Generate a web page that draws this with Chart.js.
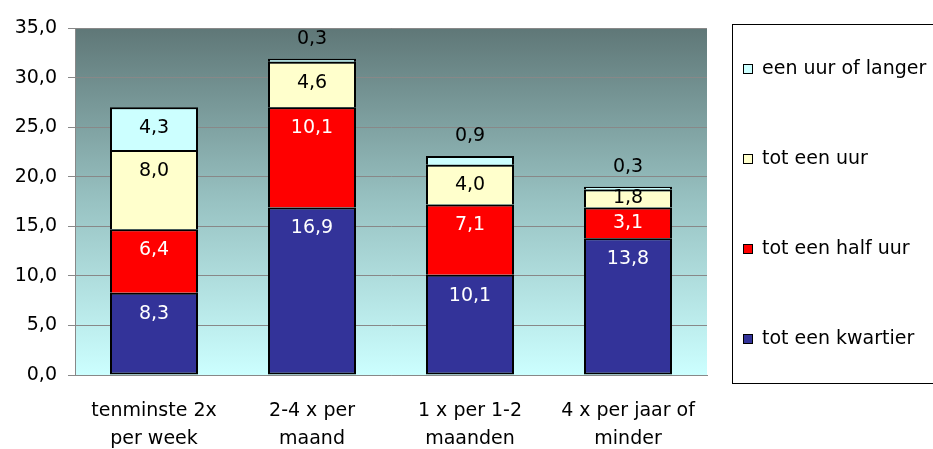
<!DOCTYPE html>
<html>
<head>
<meta charset="utf-8">
<script src="https://cdn.jsdelivr.net/npm/chart.js@4.4.0/dist/chart.umd.min.js"></script>
<style>
    html, body { margin: 0; padding: 0; background: #fff; }
</style>
</head>
<body>
<canvas id="chart" width="933" height="449"></canvas>
<script>
// data
const categories = [
    ['tenminste 2x', 'per week'],
    ['2-4 x per', 'maand'],
    ['1 x per 1-2', 'maanden'],
    ['4 x per jaar of', 'minder']
];
const seriesNames = ['tot een kwartier', 'tot een half uur', 'tot een uur', 'een uur of langer'];
const kwartier = [8.3, 16.9, 10.1, 13.8];
const halfUur = [6.4, 10.1, 7.1, 3.1];
const totUur = [8.0, 4.6, 4.0, 1.8];
const uurOfLanger = [4.3, 0.3, 0.9, 0.3];
const yTicks = [0, 5, 10, 15, 20, 25, 30, 35];

const FONT = '"DejaVu Sans", sans-serif';

function fmt(v) {
    return v.toFixed(1).replace('.', ',');
}

// achtergrond van het plotvlak
const plotBackground = {
    id: 'plotBackground',
    beforeDraw(chart) {
        const { ctx, chartArea: a } = chart;
        const g = ctx.createLinearGradient(0, a.top, 0, a.bottom);
        g.addColorStop(0, '#5f7777');
        g.addColorStop(0.5, '#98c2c2');
        g.addColorStop(1, '#ccffff');
        ctx.save();
        ctx.fillStyle = g;
        ctx.fillRect(a.left, a.top, a.right - a.left, a.bottom - a.top);
        ctx.restore();
    }
};

// waarden in de balken
const valueLabels = {
    id: 'valueLabels',
    afterDatasetsDraw(chart) {
        const ctx = chart.ctx;
        ctx.save();
        ctx.font = '19px ' + FONT;
        ctx.textAlign = 'center';
        ctx.textBaseline = 'middle';
        chart.data.datasets.forEach((ds, di) => {
            const meta = chart.getDatasetMeta(di);
            meta.data.forEach((bar, i) => {
                const top = Math.min(bar.y, bar.base);
                const bot = Math.max(bar.y, bar.base);
                let y, color = ds.labelColor;
                if (bot - top < 14) {
                    y = top - 20;
                    color = '#000';
                } else {
                    y = Math.min(top + 21, (top + bot) / 2);
                }
                ctx.fillStyle = color;
                ctx.fillText(fmt(ds.data[i]), bar.x, y);
            });
        });
        ctx.restore();
    }
};

// legenda rechts in een kader
const boxLegend = {
    id: 'boxLegend',
    afterDraw(chart) {
        const ctx = chart.ctx;
        const left = 732.5, top = 24.5, bottom = 383.5;
        const right = chart.width + 5;
        ctx.save();
        ctx.strokeStyle = '#000';
        ctx.lineWidth = 1;
        ctx.strokeRect(left, top, right - left, bottom - top);
        const items = chart.data.datasets.slice().reverse();
        const step = (bottom - top) / items.length;
        ctx.font = '19px ' + FONT;
        ctx.textAlign = 'left';
        ctx.textBaseline = 'middle';
        items.forEach((ds, i) => {
            const cy = Math.round(top + step * (i + 0.5));
            ctx.fillStyle = ds.backgroundColor;
            ctx.fillRect(743, cy - 5, 10, 10);
            ctx.strokeRect(743.5, cy - 4.5, 9, 9);
            ctx.fillStyle = '#000';
            ctx.fillText(ds.label, 762, cy);
        });
        ctx.restore();
    }
};

const colors = ['#333399', '#ff0000', '#ffffcc', '#ccffff'];
const labelColors = ['#fff', '#fff', '#000', '#000'];
const seriesData = [kwartier, halfUur, totUur, uurOfLanger];

const datasets = seriesData.map((d, i) => ({
    label: seriesNames[i],
    data: d,
    backgroundColor: colors[i],
    borderColor: '#000',
    borderWidth: 2,
    borderSkipped: i === 0 ? false : 'bottom',
    labelColor: labelColors[i],
    barPercentage: 0.557,
    categoryPercentage: 1
}));

new Chart(document.getElementById('chart').getContext('2d'), {
    type: 'bar',
    data: { labels: categories, datasets: datasets },
    options: {
        responsive: false,
        animation: false,
        layout: { padding: { top: 28, right: 226, left: 0, bottom: 0 } },
        plugins: {
            legend: { display: false },
            tooltip: { enabled: false }
        },
        scales: {
            x: {
                stacked: true,
                afterFit(scale) { scale.height = 74; },
                grid: { display: false },
                border: { display: true, color: '#888', width: 1 },
                ticks: {
                    color: '#000',
                    padding: 14,
                    font: { family: FONT, size: 19, lineHeight: 1.47 }
                }
            },
            y: {
                stacked: true,
                min: 0,
                max: 35,
                afterFit(scale) { scale.width = 75; },
                afterBuildTicks(scale) {
                    scale.ticks = yTicks.map(v => ({ value: v }));
                },
                grid: { color: '#888', lineWidth: 1, tickLength: 7 },
                border: { display: true, color: '#888', width: 1 },
                ticks: {
                    color: '#000',
                    padding: 11,
                    font: { family: FONT, size: 19 },
                    callback: function (value) { return fmt(value); }
                }
            }
        }
    },
    plugins: [plotBackground, valueLabels, boxLegend]
});
</script>
</body>
</html>
